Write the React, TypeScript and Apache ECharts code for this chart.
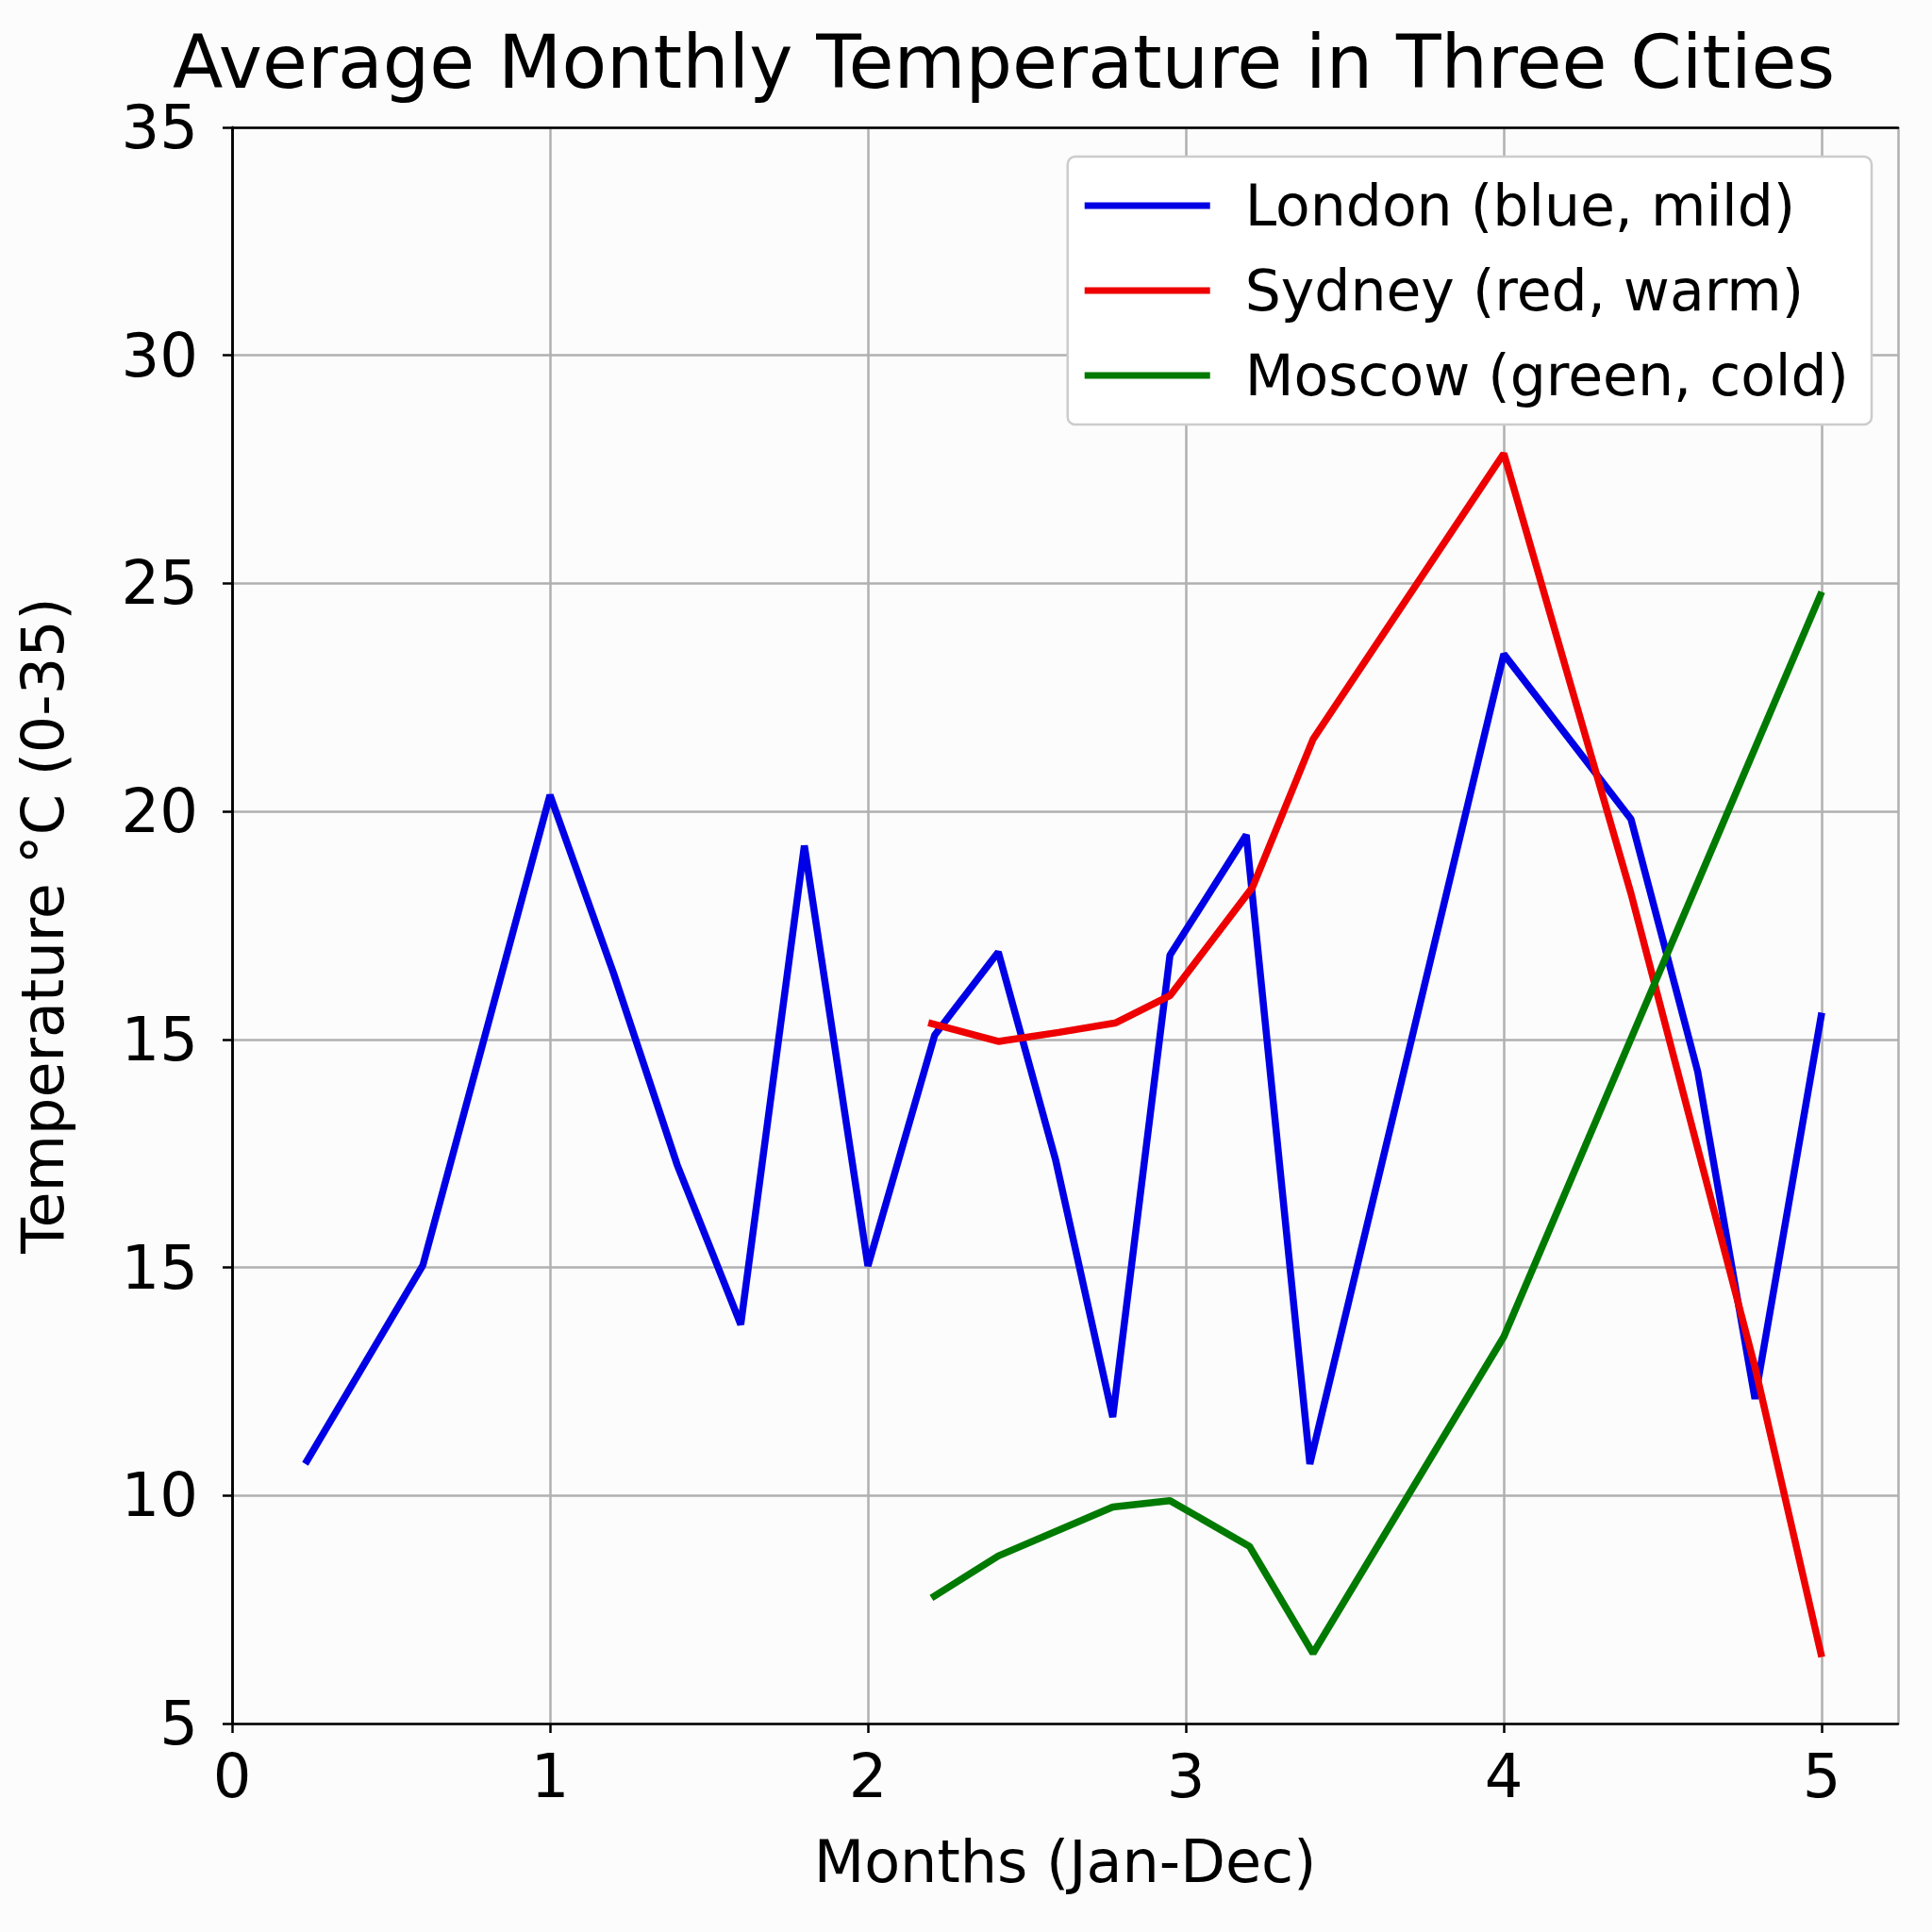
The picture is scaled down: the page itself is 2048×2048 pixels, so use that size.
import { useEffect, useRef } from "react";
import * as echarts from "echarts";

const yTickLabels = ["5", "10", "15", "15", "20", "25", "30", "35"];

const londonX = [0.23, 0.6, 1.0, 1.2, 1.4, 1.6, 1.8, 2.0, 2.21, 2.41, 2.59, 2.77, 2.95, 3.19, 3.39, 4.0, 4.4, 4.61, 4.79, 5.0];
const londonY = [9.88, 13.61, 22.45, 19.1, 15.5, 12.5, 21.5, 13.6, 17.94, 19.5, 15.6, 10.76, 19.44, 21.7, 9.88, 25.1, 22.0, 17.25, 11.1, 18.36];

const sydneyX = [2.19, 2.41, 2.6, 2.78, 2.95, 3.21, 3.4, 4.0, 4.4, 4.79, 5.0];
const sydneyY = [18.17, 17.82, 17.99, 18.17, 18.68, 20.72, 23.5, 28.87, 20.6, 11.7, 6.25];

const moscowX = [2.2, 2.41, 2.77, 2.95, 3.2, 3.4, 4.0, 5.0];
const moscowY = [7.36, 8.15, 9.07, 9.19, 8.33, 6.32, 12.27, 26.27];

const zip = (xs: number[], ys: number[]) => xs.map((x, i) => [x, ys[i]]);

const App = () => {
  const ref = useRef<HTMLDivElement>(null);

  useEffect(() => {
    if (!ref.current) return;
    const chart = echarts.init(ref.current, undefined, { renderer: "svg" });
    const font = "DejaVu Sans";
    const step = 30 / 7;
    const line = (name: string, color: string, data: number[][]) => ({
      name,
      type: "line" as const,
      data,
      symbol: "none",
      lineStyle: { color, width: 7.5 },
      itemStyle: { color },
    });
    const frame = {
      axisLine: { show: true, lineStyle: { color: "#000", width: 2.5 } },
      axisTick: { show: false },
      axisLabel: { show: false },
      splitLine: { show: false },
    };
    chart.setOption({
      animation: false,
      backgroundColor: "#fcfcfc",
      title: {
        text: "Average Monthly Temperature in Three Cities",
        left: 178,
        top: 22,
        textStyle: { fontFamily: font, fontSize: 78, fontWeight: "normal", color: "#000" },
      },
      grid: {
        left: 246,
        right: 36,
        top: 135,
        bottom: 221,
      },
      legend: {
        right: 64,
        top: 166,
        orient: "vertical",
        itemWidth: 133,
        itemHeight: 7,
        itemGap: 30,
        padding: [22, 24, 22, 18],
        backgroundColor: "#fff",
        borderColor: "#ccc",
        borderWidth: 2.5,
        borderRadius: 8,
        icon: "rect",
        textStyle: { fontFamily: font, fontSize: 60, color: "#000", padding: [0, 0, 0, 32] },
        data: ["London (blue, mild)", "Sydney (red, warm)", "Moscow (green, cold)"],
      },
      xAxis: [
        {
          type: "value",
          min: 0,
          max: 5.24,
          interval: 1,
          name: "Months (Jan-Dec)",
          nameLocation: "middle",
          nameGap: 115,
          nameTextStyle: { fontFamily: font, fontSize: 62, color: "#000" },
          axisLine: { lineStyle: { color: "#000", width: 2.5 } },
          axisTick: { show: true, length: 10, lineStyle: { color: "#000", width: 2.5 } },
          axisLabel: { fontFamily: font, fontSize: 64, color: "#000", margin: 24, showMaxLabel: false },
          splitLine: { show: true, lineStyle: { color: "#b0b0b0", width: 2.5 } },
        },
        { type: "value", position: "top", min: 0, max: 5.24, ...frame },
      ],
      yAxis: [
        {
          type: "value",
          min: 5,
          max: 35,
          interval: step,
          name: "Temperature °C (0-35)",
          nameLocation: "middle",
          nameGap: 170,
          nameTextStyle: { fontFamily: font, fontSize: 62, color: "#000" },
          axisLine: { show: true, lineStyle: { color: "#000", width: 2.5 } },
          axisTick: { show: true, length: 10, lineStyle: { color: "#000", width: 2.5 } },
          axisLabel: {
            fontFamily: font,
            fontSize: 64,
            color: "#000",
            margin: 36,
            formatter: (v: number) => yTickLabels[Math.round((v - 5) / step)] ?? "",
          },
          splitLine: { show: true, lineStyle: { color: "#b0b0b0", width: 2.5 } },
        },
        { type: "value", position: "right", min: 5, max: 35, ...frame },
      ],
      series: [
        line("London (blue, mild)", "#0000e6", zip(londonX, londonY)),
        line("Sydney (red, warm)", "#ee0000", zip(sydneyX, sydneyY)),
        line("Moscow (green, cold)", "#007a00", zip(moscowX, moscowY)),
      ],
    });
    return () => chart.dispose();
  }, []);

  return <div ref={ref} style={{ position: "fixed", left: 0, top: 0, width: 2048, height: 2048 }} />;
};

export default App;
